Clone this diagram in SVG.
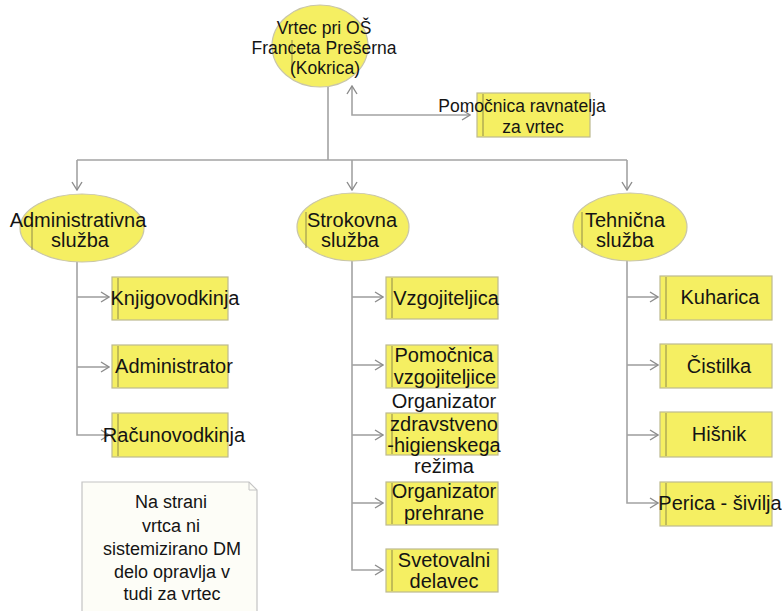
<svg xmlns="http://www.w3.org/2000/svg" width="782" height="611" viewBox="0 0 782 611">
<style>
.ell{fill:#f5ef62;stroke:#c9c6a8;stroke-width:1.2}
.box{fill:#f5ef62;stroke:#bdb98f;stroke-width:1.2}
.inner{stroke:#8f8a4a;stroke-width:1}
.con{fill:none;stroke:#a3a3a3;stroke-width:1.6}
text{font-family:"Liberation Sans",Arial,sans-serif;fill:#141414;text-anchor:middle}
.t17{font-size:17.5px}
.t19{font-size:20px}
.t16{font-size:18px}
</style>
<defs>
<marker id="arr" viewBox="0 0 10 12" refX="9" refY="6" markerWidth="10" markerHeight="12" markerUnits="userSpaceOnUse" orient="auto-start-reverse">
<path d="M1,1 L9,6 L1,11" fill="none" stroke="#8c8c8c" stroke-width="1.4"/>
</marker>
</defs>
<rect width="782" height="611" fill="#ffffff"/>

<g id="connectors">
<path class="con" d="M328,87 V160"/>
<path class="con" d="M77,160 H627"/>
<path class="con" d="M77,160 V190" marker-end="url(#arr)"/>
<path class="con" d="M352,160 V190" marker-end="url(#arr)"/>
<path class="con" d="M627,160 V190" marker-end="url(#arr)"/>
<path class="con" d="M470,115 H352 V86" marker-start="url(#arr)" marker-end="url(#arr)"/>
<path class="con" d="M77,262 V435 H109" marker-end="url(#arr)"/>
<path class="con" d="M77,297 H109" marker-end="url(#arr)"/>
<path class="con" d="M77,367 H109" marker-end="url(#arr)"/>
<path class="con" d="M352,260 V570 H383" marker-end="url(#arr)"/>
<path class="con" d="M352,297 H383" marker-end="url(#arr)"/>
<path class="con" d="M352,365 H383" marker-end="url(#arr)"/>
<path class="con" d="M352,435 H383" marker-end="url(#arr)"/>
<path class="con" d="M352,503 H383" marker-end="url(#arr)"/>
<path class="con" d="M627,260 V503 H658" marker-end="url(#arr)"/>
<path class="con" d="M627,297 H658" marker-end="url(#arr)"/>
<path class="con" d="M627,365 H658" marker-end="url(#arr)"/>
<path class="con" d="M627,435 H658" marker-end="url(#arr)"/>
</g>

<g id="vrtec">
<ellipse class="ell" cx="320" cy="46" rx="48" ry="41"/>
<line class="inner" x1="292" y1="40" x2="292" y2="74"/>
<text class="t17" x="324" y="34">Vrtec pri OŠ</text>
<text class="t17" x="324" y="54">Franceta Prešerna</text>
<text class="t17" x="325" y="74">(Kokrica)</text>
</g>

<g id="pomocnica-ravnatelja">
<rect class="box" x="477" y="93" width="113" height="44"/>
<line class="inner" x1="483" y1="94" x2="483" y2="136"/>
<text class="t17" x="522" y="112">Pomočnica ravnatelja</text>
<text class="t17" x="533" y="133">za vrtec</text>
</g>

<g id="administrativna">
<ellipse class="ell" cx="82" cy="228" rx="62" ry="34"/>
<line class="inner" x1="32" y1="222" x2="32" y2="250"/>
<text class="t19" x="78" y="227">Administrativna</text>
<text class="t19" x="80" y="247">služba</text>
</g>

<g id="strokovna">
<ellipse class="ell" cx="353" cy="227" rx="56" ry="34"/>
<line class="inner" x1="306" y1="212" x2="306" y2="248"/>
<text class="t19" x="352" y="227">Strokovna</text>
<text class="t19" x="350" y="247">služba</text>
</g>

<g id="tehnicna">
<ellipse class="ell" cx="630" cy="227" rx="57" ry="34"/>
<line class="inner" x1="582" y1="212" x2="582" y2="248"/>
<text class="t19" x="625" y="227">Tehnična</text>
<text class="t19" x="625" y="247">služba</text>
</g>

<g id="knjigovodkinja">
<rect class="box" x="112" y="277" width="116" height="43"/>
<line class="inner" x1="118" y1="278" x2="118" y2="319"/>
<text class="t19" x="175" y="305">Knjigovodkinja</text>
</g>
<g id="administrator">
<rect class="box" x="112" y="345" width="116" height="43"/>
<line class="inner" x1="118" y1="346" x2="118" y2="387"/>
<text class="t19" x="174" y="373">Administrator</text>
</g>
<g id="racunovodkinja">
<rect class="box" x="112" y="413" width="116" height="44"/>
<line class="inner" x1="118" y1="414" x2="118" y2="456"/>
<text class="t19" x="174" y="442">Računovodkinja</text>
</g>

<g id="vzgojiteljica">
<rect class="box" x="386" y="277" width="112" height="42"/>
<line class="inner" x1="392" y1="278" x2="392" y2="318"/>
<text class="t19" x="446" y="305">Vzgojiteljica</text>
</g>
<g id="pomocnica-vzgojiteljice">
<rect class="box" x="386" y="345" width="112" height="43"/>
<line class="inner" x1="392" y1="346" x2="392" y2="387"/>
<text class="t19" x="444" y="362">Pomočnica</text>
<text class="t19" x="445" y="384">vzgojiteljice</text>
</g>
<g id="organizator-zdravstveno">
<rect class="box" x="386" y="413" width="112" height="42"/>
<line class="inner" x1="392" y1="414" x2="392" y2="454"/>
<text class="t19" x="444" y="408">Organizator</text>
<text class="t19" x="444" y="431">zdravstveno</text>
<text class="t19" x="444" y="452">-higienskega</text>
<text class="t19" x="444" y="473">režima</text>
</g>
<g id="organizator-prehrane">
<rect class="box" x="386" y="482" width="112" height="43"/>
<line class="inner" x1="392" y1="483" x2="392" y2="524"/>
<text class="t19" x="444" y="498">Organizator</text>
<text class="t19" x="444" y="520">prehrane</text>
</g>
<g id="svetovalni-delavec">
<rect class="box" x="386" y="549" width="112" height="43"/>
<line class="inner" x1="392" y1="550" x2="392" y2="591"/>
<text class="t19" x="444" y="567">Svetovalni</text>
<text class="t19" x="444" y="588">delavec</text>
</g>

<g id="kuharica">
<rect class="box" x="660" y="276" width="112" height="44"/>
<line class="inner" x1="666" y1="277" x2="666" y2="319"/>
<text class="t19" x="720" y="304">Kuharica</text>
</g>
<g id="cistilka">
<rect class="box" x="660" y="344" width="112" height="44"/>
<line class="inner" x1="666" y1="345" x2="666" y2="387"/>
<text class="t19" x="719" y="373">Čistilka</text>
</g>
<g id="hisnik">
<rect class="box" x="660" y="412" width="112" height="45"/>
<line class="inner" x1="666" y1="413" x2="666" y2="456"/>
<text class="t19" x="719" y="441">Hišnik</text>
</g>
<g id="perica">
<rect class="box" x="660" y="482" width="112" height="44"/>
<line class="inner" x1="666" y1="483" x2="666" y2="525"/>
<text class="t19" x="720" y="510">Perica - šivilja</text>
</g>

<g id="opomba">
<path d="M82,482 H249 L257,490 V620 H82 Z" fill="#fdfdf7" stroke="#c4c4c4" stroke-width="1.2"/>
<path d="M249,482 V490 H257" fill="none" stroke="#c4c4c4" stroke-width="1"/>
<text class="t16" x="171" y="508">Na strani</text>
<text class="t16" x="171" y="532">vrtca ni</text>
<text class="t16" x="172" y="555">sistemizirano DM</text>
<text class="t16" x="172" y="578">delo opravlja v</text>
<text class="t16" x="172" y="600">tudi za vrtec</text>
</g>
</svg>
